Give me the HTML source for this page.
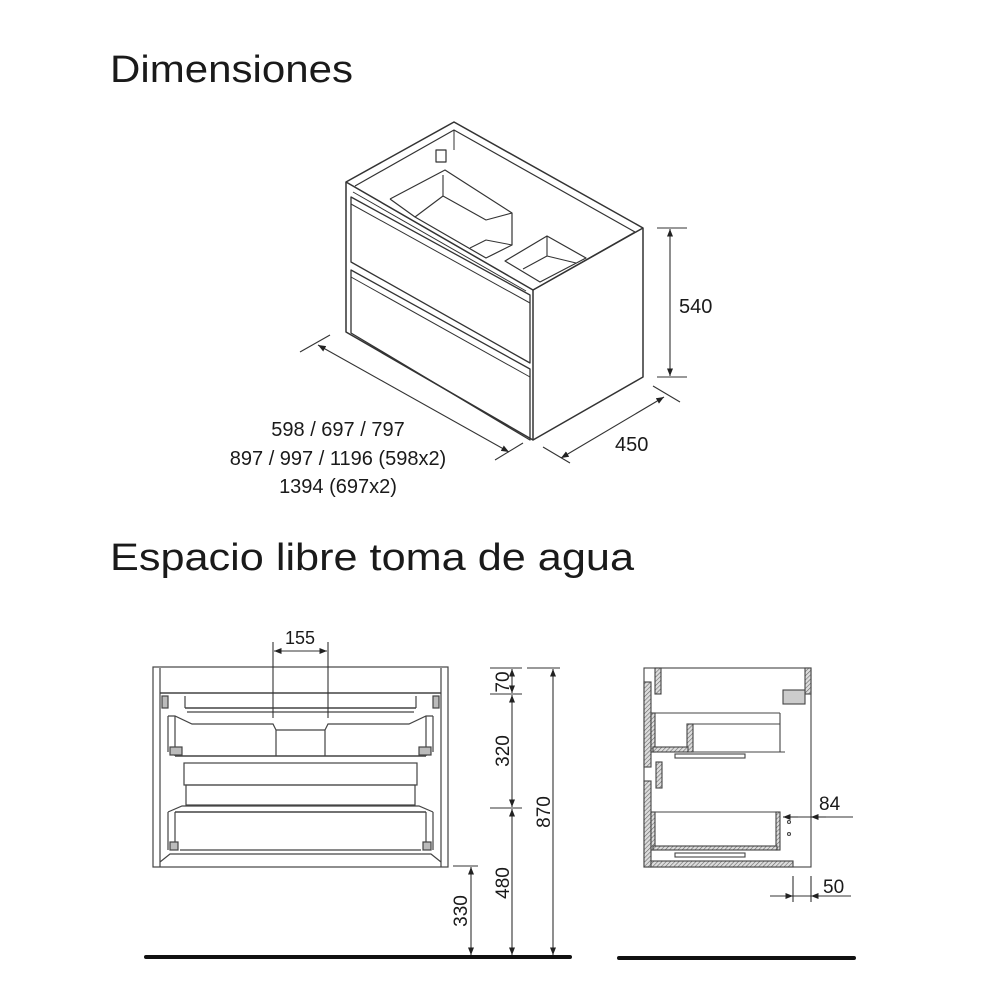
<!DOCTYPE html>
<html><head><meta charset="utf-8"><style>
html,body{margin:0;padding:0;background:#fff;}
svg{display:block;}
text{font-family:"Liberation Sans",sans-serif;fill:#1a1a1a;}
</style></head><body>
<svg width="1000" height="1000" viewBox="0 0 1000 1000" xmlns="http://www.w3.org/2000/svg">
<defs>
<pattern id="h" width="3" height="3" patternUnits="userSpaceOnUse" patternTransform="rotate(45)">
<rect width="3" height="3" fill="#ddd"/><line x1="0" y1="0" x2="0" y2="3" stroke="#666" stroke-width="1.2"/>
</pattern>
<marker id="a" viewBox="0 0 10 10" refX="10" refY="5" markerWidth="7" markerHeight="7" orient="auto-start-reverse"><path d="M0,1 L10,5 L0,9 z" fill="#222"/></marker>
</defs>

<text x="110" y="82" font-size="38" textLength="243" lengthAdjust="spacingAndGlyphs">Dimensiones</text>
<text x="110" y="570" font-size="38" textLength="524" lengthAdjust="spacingAndGlyphs">Espacio libre toma de agua</text>

<!-- Isometric cabinet -->
<g fill="none" stroke="#333" stroke-width="1.5" stroke-linejoin="round">
<path d="M346,182 L454,122 L643,228 L643,377 L533,440 L346,332 Z" fill="#fff"/>
<path d="M346,182 L533,290 L643,228"/>
<path d="M533,290 L533,440"/>
<path d="M355,186 L454,130 L635,232 L533,290" stroke-width="1.2"/>
<path d="M454,130 L454,150" stroke-width="1"/>
<path d="M353,192 L526,291" stroke-width="1"/>
<rect x="436" y="150" width="10" height="12" stroke-width="1.2"/>
<!-- basins -->
<path d="M390,199 L445,170 L512,213 L512,245 L486,258 L415,217 L390,199" stroke-width="1.2"/>
<path d="M443,175 L443,196 L486,220 L512,213" stroke-width="1.1"/>
<path d="M415,217 L443,196" stroke-width="1.1"/>
<path d="M470,248 L486,240 L512,245" stroke-width="1"/>
<path d="M505,261 L547,236 L586,258 L540,282 Z" stroke-width="1.2"/>
<path d="M547,236 L547,256 L523,269" stroke-width="1.1"/>
<path d="M547,256 L576,263" stroke-width="1"/>
<!-- drawers -->
<path d="M351,197 L530,295 L530,363 L351,262 Z" stroke-width="1.3"/>
<path d="M351,204 L530,303" stroke-width="1"/>
<path d="M351,270 L530,369 L530,440 L351,333 Z" stroke-width="1.3"/>
<path d="M351,277 L530,377" stroke-width="1"/>
</g>
<!-- iso dims -->
<g stroke="#333" stroke-width="1.1" fill="none">
<line x1="300" y1="352" x2="330" y2="335"/>
<line x1="495" y1="460" x2="523" y2="443"/>
<line x1="318" y1="345" x2="509" y2="452" marker-start="url(#a)" marker-end="url(#a)"/>
<line x1="543" y1="447" x2="570" y2="463"/>
<line x1="653" y1="386" x2="680" y2="402"/>
<line x1="561" y1="458" x2="664" y2="397" marker-start="url(#a)" marker-end="url(#a)"/>
<line x1="657" y1="228" x2="687" y2="228"/>
<line x1="657" y1="377" x2="687" y2="377"/>
<line x1="670" y1="229" x2="670" y2="376" marker-start="url(#a)" marker-end="url(#a)"/>
</g>
<text x="679" y="313" font-size="20">540</text>
<text x="615" y="451" font-size="20">450</text>
<g font-size="20" text-anchor="middle">
<text x="338" y="436">598 / 697 / 797</text>
<text x="338" y="465">897 / 997 / 1196 (598x2)</text>
<text x="338" y="493">1394 (697x2)</text>
</g>

<!-- Front view -->
<g fill="none" stroke="#444" stroke-width="1.2">
<rect x="153" y="667" width="295" height="200"/>
<line x1="160" y1="668" x2="160" y2="867"/>
<line x1="441" y1="668" x2="441" y2="867"/>
<line x1="160" y1="693" x2="441" y2="693" stroke-width="1.5"/>
<line x1="185" y1="696" x2="185" y2="708"/>
<line x1="416" y1="696" x2="416" y2="708"/>
<line x1="185" y1="708" x2="416" y2="708" stroke-width="1.5"/>
<line x1="187" y1="712" x2="414" y2="712"/>
<path d="M168,716 L175,716 L192,724 L273,724 L276,730 L276,756"/>
<path d="M433,716 L426,716 L409,724 L328,724 L325,730 L325,756"/>
<path d="M175,716 L175,756 M426,716 L426,756"/>
<path d="M168,716 L168,752 M433,716 L433,752"/>
<line x1="175" y1="756" x2="426" y2="756" stroke-width="1.6"/>
<line x1="276" y1="730" x2="325" y2="730"/>
<rect x="184" y="763" width="233" height="22"/>
<rect x="186" y="785" width="229" height="20"/>
<path d="M168,812 L182,806 L419,806 L433,812"/>
<line x1="175" y1="812" x2="426" y2="812" stroke-width="1.5"/>
<path d="M168,812 L168,850 M433,812 L433,850 M175,812 L175,850 M426,812 L426,850"/>
<line x1="180" y1="850" x2="421" y2="850" stroke-width="1.3"/>
<path d="M160,862 L170,854 L431,854 L441,862"/>
<rect x="162" y="696" width="6" height="12" fill="#bbb"/>
<rect x="433" y="696" width="6" height="12" fill="#bbb"/>
<rect x="170" y="747" width="12" height="8" fill="#bbb"/>
<rect x="419" y="747" width="12" height="8" fill="#bbb"/>
<rect x="170" y="842" width="8" height="8" fill="#bbb"/>
<rect x="423" y="842" width="8" height="8" fill="#bbb"/>
</g>
<g stroke="#333" stroke-width="1.1" fill="none">
<line x1="273" y1="642" x2="273" y2="718"/>
<line x1="328" y1="642" x2="328" y2="718"/>
<line x1="274" y1="651" x2="327" y2="651" marker-start="url(#a)" marker-end="url(#a)"/>
<line x1="527" y1="668" x2="560" y2="668"/>
<line x1="490" y1="668" x2="522" y2="668"/>
<line x1="490" y1="694" x2="522" y2="694"/>
<line x1="490" y1="808" x2="522" y2="808"/>
<line x1="453" y1="866" x2="478" y2="866"/>
<line x1="553" y1="669" x2="553" y2="955" marker-start="url(#a)" marker-end="url(#a)"/>
<line x1="512" y1="669" x2="512" y2="693" marker-start="url(#a)" marker-end="url(#a)"/>
<line x1="512" y1="695" x2="512" y2="807" marker-start="url(#a)" marker-end="url(#a)"/>
<line x1="512" y1="809" x2="512" y2="955" marker-start="url(#a)" marker-end="url(#a)"/>
<line x1="471" y1="867" x2="471" y2="955" marker-start="url(#a)" marker-end="url(#a)"/>
</g>
<text x="300" y="644" font-size="18" text-anchor="middle">155</text>
<g font-size="19" text-anchor="middle">
<text transform="translate(509,682) rotate(-90)">70</text>
<text transform="translate(509,751) rotate(-90)">320</text>
<text transform="translate(509,883) rotate(-90)">480</text>
<text transform="translate(550,812) rotate(-90)">870</text>
<text transform="translate(467,911) rotate(-90)">330</text>
</g>
<line x1="146" y1="957" x2="570" y2="957" stroke="#111" stroke-width="4" stroke-linecap="round"/>

<!-- Side view -->
<g stroke="#444" stroke-width="1.1">
<rect x="644" y="668" width="167" height="199" fill="none"/>
<rect x="644" y="682" width="7" height="85" fill="url(#h)"/>
<rect x="644" y="781" width="7" height="86" fill="url(#h)"/>
<rect x="655" y="668" width="6" height="26" fill="url(#h)"/>
<rect x="805" y="668" width="6" height="26" fill="url(#h)"/>
<rect x="656" y="762" width="6" height="26" fill="url(#h)"/>
<rect x="651" y="713" width="4" height="39" fill="url(#h)"/>
<line x1="651" y1="713" x2="780" y2="713" fill="none"/>
<line x1="780" y1="713" x2="780" y2="752"/>
<rect x="687" y="724" width="6" height="28" fill="url(#h)"/>
<line x1="693" y1="724" x2="780" y2="724"/>
<line x1="693" y1="752" x2="785" y2="752"/>
<rect x="653" y="747" width="35" height="5" fill="url(#h)"/>
<rect x="675" y="754" width="70" height="4" fill="#fff"/>
<rect x="783" y="690" width="22" height="14" fill="#ccc"/>
<rect x="651" y="812" width="4" height="38" fill="url(#h)"/>
<line x1="651" y1="812" x2="780" y2="812"/>
<rect x="776" y="812" width="4" height="38" fill="url(#h)"/>
<rect x="653" y="846" width="124" height="4" fill="url(#h)"/>
<rect x="675" y="853" width="70" height="4" fill="#fff"/>
<rect x="651" y="861" width="142" height="6" fill="url(#h)"/>
<circle cx="789" cy="822" r="1.5" fill="none"/>
<circle cx="789" cy="834" r="1.5" fill="none"/>
</g>
<g stroke="#333" stroke-width="1.1" fill="none">
<line x1="783" y1="817" x2="853" y2="817"/>
<line x1="798" y1="817" x2="783" y2="817" marker-end="url(#a)"/>
<line x1="826" y1="817" x2="811" y2="817" marker-end="url(#a)"/>
<line x1="793" y1="876" x2="793" y2="902"/>
<line x1="811" y1="876" x2="811" y2="902"/>
<line x1="770" y1="896" x2="851" y2="896"/>
<line x1="770" y1="896" x2="793" y2="896" marker-end="url(#a)"/>
<line x1="834" y1="896" x2="811" y2="896" marker-end="url(#a)"/>
</g>
<text x="819" y="810" font-size="19">84</text>
<text x="823" y="893" font-size="19">50</text>
<line x1="619" y1="958" x2="854" y2="958" stroke="#111" stroke-width="4" stroke-linecap="round"/>
</svg>
</body></html>
